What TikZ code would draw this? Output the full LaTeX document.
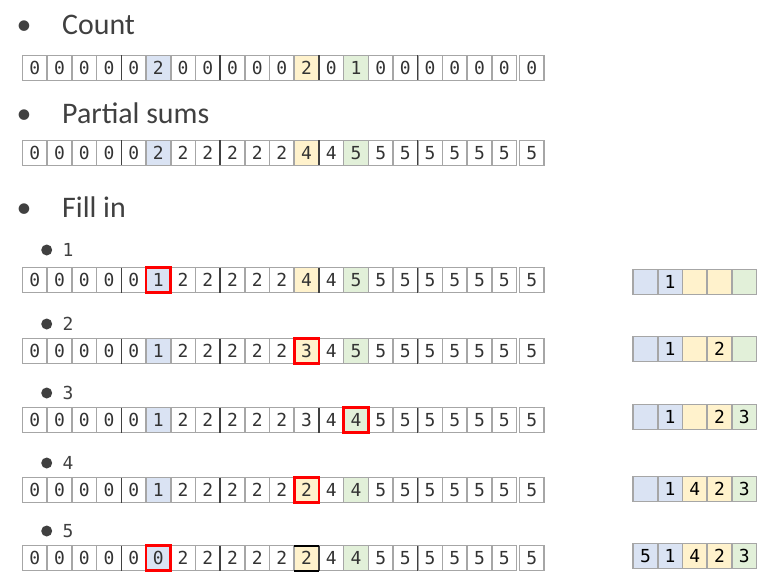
\documentclass[tikz,border=0pt]{standalone}
\usepackage{fontspec}
\setmainfont{Carlito}
\newfontfamily\cellfont{DejaVu Sans Mono}
\usetikzlibrary{positioning}

\definecolor{textgray}{HTML}{404040}
\definecolor{digitgray}{HTML}{333333}
\definecolor{cellgray}{HTML}{A6A6A6}
\definecolor{fillblue}{HTML}{DAE3F3}
\definecolor{fillgold}{HTML}{FFF2CC}
\definecolor{fillgreen}{HTML}{E2F0D9}

\tikzset{
  cellbox/.style={rectangle, draw=cellgray, line width=1.6bp, outer sep=0pt, inner sep=0pt,
    minimum width=24.7bp, minimum height=25bp, text=digitgray,
    font=\cellfont\fontsize{18}{18}\selectfont},
  headtext/.style={anchor=base west, inner sep=0pt, text=textgray, font=\fontsize{30}{36}\selectfont},
  headbullet/.style={anchor=base, inner sep=0pt, text=textgray, font=\fontsize{30}{36}\selectfont},
  dotmark/.style={circle, fill=textgray, minimum size=11bp, inner sep=0pt},
  steplabel/.style={inner sep=0pt, text=textgray, font=\cellfont\fontsize{18}{18}\selectfont},
  groupbar/.style={draw=textgray, line width=1.5bp},
  redframe/.style={draw=red, line width=2.6bp},
  edgebar/.style={draw=black, line width=2bp}
}

% one row of cells: [extra style]{name}{x of first centre}{y}{value/fill,...}
\newcommand{\cellrow}[5][]{%
  \foreach \v/\f [count=\i from 0] in {#5}
    \node[cellbox, #1, fill=\f] (#2-\i) at ({#3+24.7*\i+3*(\i>19)}, #4) {\v};
}
% dark bars after every fourth cell
\newcommand{\groupbars}[1]{%
  \foreach \k in {3,7,11,15}
    \draw[groupbar] (#1-\k.north east) -- (#1-\k.south east);
}

\begin{document}
\begin{tikzpicture}[x=1bp, y=-1bp]
\useasboundingbox (0,0) rectangle (775,584);

% headings
\node[headbullet] (bulCount) at (24,35) {•};
\node[headtext] (headCount) at (62,35) {Count};
\node[headbullet] (bulPsum) at (24,124) {•};
\node[headtext] (headPsum) at (62,124) {Partial sums};
\node[headbullet] (bulFill) at (24,218) {•};
\node[headtext] (headFill) at (62,218) {Fill in};

% count and partial sums
\cellrow{count}{34.85}{68}{0/white,0/white,0/white,0/white,0/white,2/fillblue,0/white,0/white,0/white,0/white,
  0/white,2/fillgold,0/white,1/fillgreen,0/white,0/white,0/white,0/white,0/white,0/white,0/white}
\groupbars{count}
\cellrow{psum}{34.85}{153}{0/white,0/white,0/white,0/white,0/white,2/fillblue,2/white,2/white,2/white,2/white,
  2/white,4/fillgold,4/white,5/fillgreen,5/white,5/white,5/white,5/white,5/white,5/white,5/white}
\groupbars{psum}

% fill in steps
\node[dotmark] (dot1) at (46.7,250) {};
\node[steplabel, right=10bp of dot1] (lab1) {1};
\cellrow{fill1}{34.85}{280}{0/white,0/white,0/white,0/white,0/white,1/fillblue,2/white,2/white,2/white,2/white,
  2/white,4/fillgold,4/white,5/fillgreen,5/white,5/white,5/white,5/white,5/white,5/white,5/white}
\groupbars{fill1}
\draw[redframe] (fill1-5.south west) rectangle (fill1-5.north east);

\node[dotmark] (dot2) at (46.7,324) {};
\node[steplabel, right=10bp of dot2] (lab2) {2};
\cellrow{fill2}{34.85}{351}{0/white,0/white,0/white,0/white,0/white,1/fillblue,2/white,2/white,2/white,2/white,
  2/white,3/fillgold,4/white,5/fillgreen,5/white,5/white,5/white,5/white,5/white,5/white,5/white}
\groupbars{fill2}
\draw[redframe] (fill2-11.south west) rectangle (fill2-11.north east);

\node[dotmark] (dot3) at (46.7,393) {};
\node[steplabel, right=10bp of dot3] (lab3) {3};
\cellrow{fill3}{34.85}{420}{0/white,0/white,0/white,0/white,0/white,1/fillblue,2/white,2/white,2/white,2/white,
  2/white,3/white,4/white,4/fillgreen,5/white,5/white,5/white,5/white,5/white,5/white,5/white}
\groupbars{fill3}
\draw[redframe] (fill3-13.south west) rectangle (fill3-13.north east);

\node[dotmark] (dot4) at (46.7,463) {};
\node[steplabel, right=10bp of dot4] (lab4) {4};
\cellrow{fill4}{34.85}{490}{0/white,0/white,0/white,0/white,0/white,1/fillblue,2/white,2/white,2/white,2/white,
  2/white,2/fillgold,4/white,4/fillgreen,5/white,5/white,5/white,5/white,5/white,5/white,5/white}
\groupbars{fill4}
\draw[redframe] (fill4-11.south west) rectangle (fill4-11.north east);

\node[dotmark] (dot5) at (46.7,531) {};
\node[steplabel, right=10bp of dot5] (lab5) {5};
\cellrow{fill5}{34.85}{558}{0/white,0/white,0/white,0/white,0/white,0/fillblue,2/white,2/white,2/white,2/white,
  2/white,2/fillgold,4/white,4/fillgreen,5/white,5/white,5/white,5/white,5/white,5/white,5/white}
\groupbars{fill5}
\draw[redframe] (fill5-5.south west) rectangle (fill5-5.north east);
\draw[edgebar] (fill5-11.north west) -- (fill5-11.north east);
\draw[edgebar] (fill5-11.south west) -- (fill5-11.south east);

% output array
\cellrow[text=black]{out1}{645.4}{282}{/fillblue,1/fillblue,/fillgold,/fillgold,/fillgreen}
\cellrow[text=black]{out2}{645.4}{349}{/fillblue,1/fillblue,/fillgold,2/fillgold,/fillgreen}
\cellrow[text=black]{out3}{645.4}{417}{/fillblue,1/fillblue,/fillgold,2/fillgold,3/fillgreen}
\cellrow[text=black]{out4}{645.4}{489}{/fillblue,1/fillblue,4/fillgold,2/fillgold,3/fillgreen}
\cellrow[text=black]{out5}{645.4}{556}{5/fillblue,1/fillblue,4/fillgold,2/fillgold,3/fillgreen}
\end{tikzpicture}
\end{document}
